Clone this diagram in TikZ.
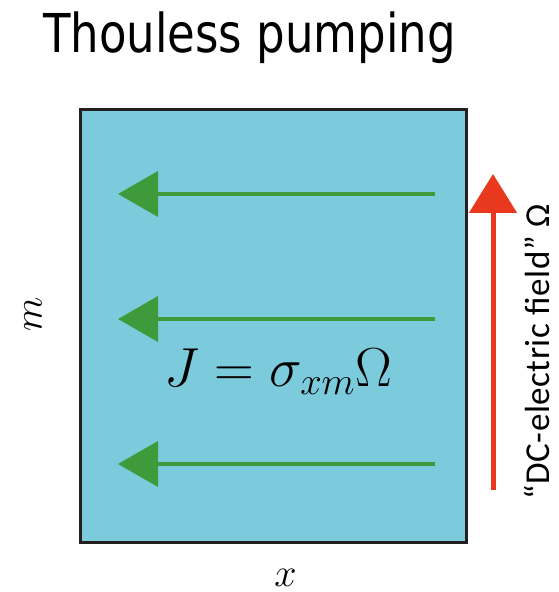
\RequirePackage{fix-cm}
\documentclass[tikz,border=0pt]{standalone}
\usepackage{fontspec}
\newfontfamily\titlefont[FakeStretch=0.84]{DejaVu Sans}
\newfontfamily\labelfont[LetterSpace=1.5]{Carlito}
\usetikzlibrary{arrows.meta}
\definecolor{panelblue}{RGB}{124,203,221}
\definecolor{pumpgreen}{RGB}{62,154,58}
\definecolor{fieldred}{RGB}{232,56,30}
\definecolor{edgegray}{RGB}{35,31,32}

\begin{document}
\begin{tikzpicture}[x=0.5pt,y=-0.5pt,
  current/.style={draw=pumpgreen,line width=2pt,-{Triangle[length=20pt,width=22.5pt]}},
  field/.style={draw=fieldred,line width=2.5pt,-{Triangle[length=19.5pt,width=23.5pt]}}]
\useasboundingbox (0,0) rectangle (558,592);
\node[anchor=base,font=\titlefont\fontsize{26.8}{30}\selectfont] (title) at (249.5,53) {Thouless pumping};
\node[draw=edgegray,line width=1.5pt,fill=panelblue,minimum width=193pt,minimum height=216pt,
  inner sep=0pt,outer sep=0pt] (panel) at (273,326) {};
% pumped current
\coordinate (j1s) at (435,194); \coordinate (j1e) at (118,194);
\coordinate (j2s) at (435,319); \coordinate (j2e) at (118,319);
\coordinate (j3s) at (435,464); \coordinate (j3e) at (118,464);
\draw[current] (j1s) -- (j1e);
\draw[current] (j2s) -- (j2e);
\draw[current] (j3s) -- (j3e);
\node[font=\fontsize{27.5}{32}\selectfont] (hall) at (278.5,372) {$J=\sigma_{xm}\Omega$};
% field along m
\coordinate (fs) at (493,490); \coordinate (fe) at (493,174);
\draw[field] (fs) -- (fe);
\node[rotate=90,font=\labelfont\fontsize{17.5}{20}\selectfont] (fieldlabel) at (537,352) {“DC-electric field” Ω};
\node[rotate=90,font=\fontsize{20}{24}\selectfont] (mlabel) at (33,314) {$m$};
\node[font=\fontsize{20}{24}\selectfont] (xlabel) at (285.5,578) {$x$};
\end{tikzpicture}
\end{document}
